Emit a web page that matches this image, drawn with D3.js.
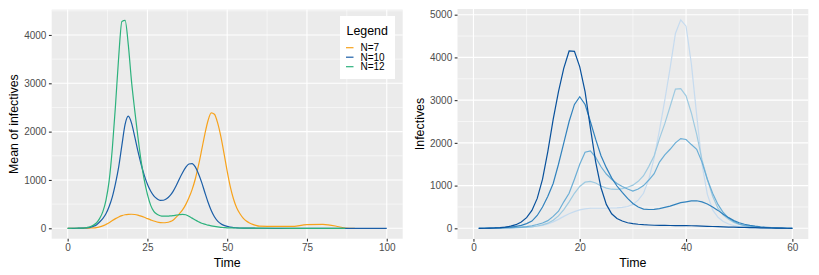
<!DOCTYPE html>
<html>
<head>
<meta charset="utf-8">
<script src="https://cdn.jsdelivr.net/npm/d3@7"></script>
<style>
  body { margin: 0; background: #fff; }
  svg { font-family: "Liberation Sans", Arial, sans-serif; }
</style>
</head>
<body>
<script>
// left panel: mean of infectives per N
let leftTime = [0,1,2,3,4,5,6,7,8,9,10,11,12,13,14,15,16,17,18,19,20,21,22,23,24,25,26,27,28,29,30,
  31,32,33,34,35,36,37,38,39,40,41,42,43,44,45,46,47,48,49,50,51,52,53,54,55,56,57,58,59,60,
  65,70,75,80,85,87,90,95,100];

let meanN7 = [0,0,0,1,1,2,3,5,8,15,30,50,80,115,160,200,235,262,280,288,290,285,272,252,228,200,175,150,130,118,115,
  120,135,165,230,300,380,490,630,800,1020,1300,1620,1950,2230,2390,2360,2180,1900,1550,1180,850,
  600,420,300,210,150,110,80,60,45,38,
  38,75,82,32,5,0,null,null,null];

let meanN10 = [0,0,0,1,2,5,10,20,40,70,130,200,300,450,650,930,1270,1720,2150,2320,2180,1900,1600,1330,1100,910,
  770,670,610,578,580,610,670,760,880,1020,1150,1260,1330,1340,1270,1130,950,740,540,370,240,150,
  95,60,38,25,15,10,6,4,3,2,2,1,1,
  0,0,0,0,0,0,0,0,0];

let meanN12 = [0,0,1,2,3,5,15,30,60,110,200,340,580,980,1650,2550,3550,4280,4300,3800,3050,2450,1900,1400,1000,
  700,480,350,290,260,250,250,255,262,272,282,288,280,250,210,170,135,105,85,65,50,38,28,20,15,10,
  8,7,6,5,4,3,3,2,2,2,
  1,0,0,0,0,0,null,null,null];

let legendLabels = ["N=7", "N=10", "N=12"];
let legendColors = ["#F7A21B", "#1B5EA7", "#2DB27D"];

// right panel: infectives per run
let rightTime = [1,2,3,4,5,6,7,8,9,10,11,12,13,14,15,16,17,18,19,20,21,22,23,24,25,26,27,28,29,30,
  31,32,33,34,35,36,37,38,39,40,41,42,43,44,45,46,47,48,49,50,51,52,53,54,55,56,57,58,59,60];

let run1 = [0,2,5,10,18,30,50,85,150,250,420,700,1150,1800,2550,3200,3750,4150,4140,3780,3200,2350,1550,950,560,
  340,230,170,130,110,95,85,78,72,70,68,66,65,65,64,60,55,50,46,42,38,34,30,27,24,21,18,15,12,10,8,6,4,2,0];
let run2 = [0,2,4,8,12,20,30,45,70,110,170,300,500,750,1050,1500,2000,2500,2900,3080,2900,2500,2080,1700,1420,
  1180,990,840,700,580,500,450,440,445,460,490,520,560,600,620,640,645,620,570,500,420,330,250,180,130,
  95,70,50,35,24,15,9,5,2,0];
let run3 = [0,1,2,4,7,10,15,22,30,40,60,90,125,180,280,400,620,820,1150,1500,1780,1810,1660,1440,1270,
  1150,1050,980,920,870,920,1000,1130,1280,1550,1720,1850,2000,2100,2080,1960,1850,1550,1150,820,560,370,240,160,100,
  70,50,35,22,14,9,5,3,1,0];
let run4 = [0,1,2,3,5,8,11,15,20,28,35,55,80,120,190,290,440,620,820,980,1080,1100,1060,990,940,
  915,910,930,960,1010,1100,1230,1450,1700,2100,2450,2850,3260,3270,3100,2700,2200,1600,1150,750,470,310,210,140,90,
  60,40,27,18,11,7,4,2,1,0];
let run5 = [0,1,2,3,5,7,10,14,20,28,38,50,70,100,150,210,280,340,390,430,455,470,470,470,470,
  475,480,490,510,560,660,820,1150,1650,2300,3000,3750,4560,4880,4730,3850,2650,1500,800,430,260,160,100,65,40,
  28,18,12,8,5,3,2,1,0,0];
let runColors = ["#08519C", "#3182BD", "#6BAED6", "#9ECAE1", "#C6DBEF"];

let leftXTicks = [0, 25, 50, 75, 100];
let leftYTicks = [0, 1000, 2000, 3000, 4000];
let rightXTicks = [0, 20, 40, 60];
let rightYTicks = [0, 1000, 2000, 3000, 4000, 5000];

let svg = d3.select("body").append("svg")
    .attr("width", 819)
    .attr("height", 275);

function panel(opts) {
    let x = d3.scaleLinear().domain(opts.xDomain).range([opts.left, opts.right]);
    let y = d3.scaleLinear().domain(opts.yDomain).range([opts.bottom, opts.top]);
    let g = svg.append("g");

    g.append("rect")
        .attr("x", opts.left).attr("y", opts.top)
        .attr("width", opts.right - opts.left).attr("height", opts.bottom - opts.top)
        .attr("fill", "#EBEBEB");

    // minor grid
    g.selectAll(".minx").data(opts.xMinor).enter().append("line")
        .attr("x1", d => x(d)).attr("x2", d => x(d))
        .attr("y1", opts.top).attr("y2", opts.bottom)
        .attr("stroke", "#fff").attr("stroke-width", 0.55);
    g.selectAll(".miny").data(opts.yMinor.filter(d => y(d) > opts.top)).enter().append("line")
        .attr("y1", d => y(d)).attr("y2", d => y(d))
        .attr("x1", opts.left).attr("x2", opts.right)
        .attr("stroke", "#fff").attr("stroke-width", 0.55);

    // major grid
    g.selectAll(".majx").data(opts.xTicks).enter().append("line")
        .attr("x1", d => x(d)).attr("x2", d => x(d))
        .attr("y1", opts.top).attr("y2", opts.bottom)
        .attr("stroke", "#fff").attr("stroke-width", 1.1);
    g.selectAll(".majy").data(opts.yTicks).enter().append("line")
        .attr("y1", d => y(d)).attr("y2", d => y(d))
        .attr("x1", opts.left).attr("x2", opts.right)
        .attr("stroke", "#fff").attr("stroke-width", 1.1);

    let xAxis = g.append("g")
        .attr("transform", "translate(0," + opts.bottom + ")")
        .call(d3.axisBottom(x).tickValues(opts.xTicks).tickFormat(d3.format("d"))
            .tickSize(2.8).tickPadding(2.5));
    let yAxis = g.append("g")
        .attr("transform", "translate(" + opts.left + ",0)")
        .call(d3.axisLeft(y).tickValues(opts.yTicks).tickFormat(d3.format("d"))
            .tickSize(2.8).tickPadding(2.5));

    [xAxis, yAxis].forEach(a => {
        a.select(".domain").remove();
        a.selectAll(".tick line").attr("stroke", "#333").attr("stroke-width", 1.1);
        a.selectAll(".tick text").attr("fill", "#4D4D4D")
            .style("font-size", "10px").style("font-family", "Liberation Sans, Arial, sans-serif");
    });

    g.append("text")
        .attr("x", (opts.left + opts.right) / 2).attr("y", 266.5)
        .attr("text-anchor", "middle")
        .style("font-size", "12.4px")
        .text("Time");
    g.append("text")
        .attr("transform", "translate(" + opts.yTitleX + "," + (opts.top + opts.bottom) / 2 + ") rotate(-90)")
        .attr("text-anchor", "middle")
        .style("font-size", "12.4px")
        .text(opts.yTitle);

    return { x: x, y: y, g: g };
}

// left chart
let L = panel({
    left: 51.7, right: 402.7, top: 9.6, bottom: 238.7,
    xDomain: [-5, 105], yDomain: [-215.5, 4525],
    xTicks: leftXTicks, yTicks: leftYTicks,
    xMinor: [12.5, 37.5, 62.5, 87.5], yMinor: [500, 1500, 2500, 3500, 4500],
    yTitle: "Mean of infectives", yTitleX: 17.5
});

let leftSeries = [meanN7, meanN10, meanN12];
let leftLine = d3.line()
    .defined(d => d[1] != null)
    .x(d => L.x(d[0])).y(d => L.y(d[1]))
    .curve(d3.curveMonotoneX);

L.g.selectAll(".mean").data(leftSeries).enter().append("path")
    .attr("d", s => leftLine(leftTime.map((t, i) => [t, s[i]])))
    .attr("fill", "none")
    .attr("stroke", (s, i) => legendColors[i])
    .attr("stroke-width", 1.2);

// legend
let leg = L.g.append("g");
leg.append("rect")
    .attr("x", 340).attr("y", 16).attr("width", 55).attr("height", 63)
    .attr("fill", "#fff");
leg.append("text")
    .attr("x", 346.5).attr("y", 35)
    .style("font-size", "12.4px")
    .text("Legend");
let items = leg.selectAll(".item").data(legendLabels).enter().append("g")
    .attr("transform", (d, i) => "translate(0," + (47.7 + i * 9.5) + ")");
items.append("line")
    .attr("x1", 346).attr("x2", 353.5)
    .attr("stroke", (d, i) => legendColors[i]).attr("stroke-width", 1.2);
items.append("text")
    .attr("x", 360.5).attr("dy", "0.35em")
    .style("font-size", "10px")
    .text(d => d);

// right chart
let R = panel({
    left: 457.5, right: 808.3, top: 9, bottom: 239,
    xDomain: [-3, 63], yDomain: [-250, 5133],
    xTicks: rightXTicks, yTicks: rightYTicks,
    xMinor: [10, 30, 50], yMinor: [500, 1500, 2500, 3500, 4500],
    yTitle: "Infectives", yTitleX: 424
});

let rightSeries = [run5, run4, run3, run2, run1];
let rightRunColors = [runColors[4], runColors[3], runColors[2], runColors[1], runColors[0]];
let rightLine = d3.line()
    .x(d => R.x(d[0])).y(d => R.y(d[1]));

R.g.selectAll(".run").data(rightSeries).enter().append("path")
    .attr("d", s => rightLine(rightTime.map((t, i) => [t, s[i]])))
    .attr("fill", "none")
    .attr("stroke", (s, i) => rightRunColors[i])
    .attr("stroke-width", 1.2);
</script>
</body>
</html>
